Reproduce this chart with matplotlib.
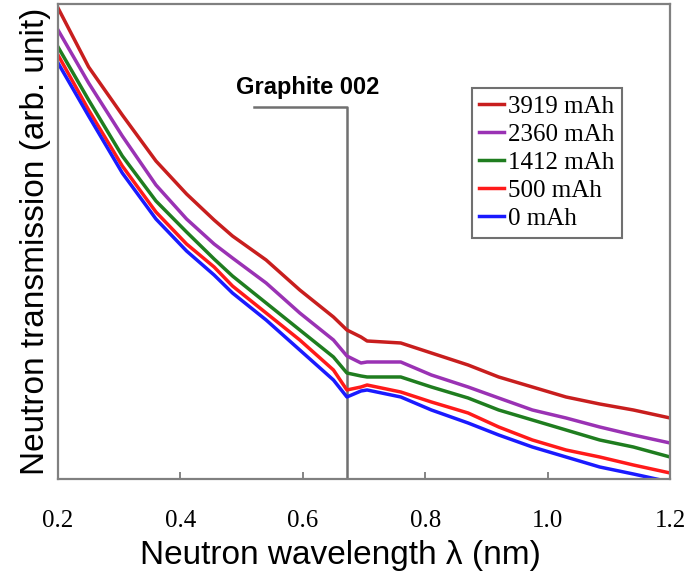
import matplotlib.pyplot as plt

# wavelength knots (nm) and transmission (arb. unit)
wl = [0.20, 0.25, 0.305, 0.36, 0.41, 0.455, 0.485, 0.54, 0.595, 0.65, 0.672,
      0.695, 0.705, 0.76, 0.81, 0.87, 0.92, 0.975, 1.03, 1.085, 1.14, 1.20]
t_3919 = [471, 412, 364, 318, 285, 259, 243, 219, 189, 162, 149,
          142, 138, 136, 126, 114, 102, 92, 82, 75, 69, 61]
t_2360 = [449, 396, 343, 294, 260, 235, 221, 196, 166, 139, 123,
          116, 117, 117, 104, 92, 81, 69, 61, 52, 44, 36]
t_1412 = [432, 379, 323, 278, 247, 220, 203, 176, 149, 122, 106,
          103, 102, 102, 92, 81, 69, 59, 49, 39, 32, 22]
t_500 = [424, 369, 313, 267, 235, 212, 193, 166, 139, 109, 89,
         92, 94, 87, 77, 66, 52, 39, 29, 22, 14, 6]
t_0 = [416, 363, 306, 260, 228, 204, 186, 159, 129, 99, 82,
       88, 89, 82, 69, 56, 44, 32, 22, 12, 5, -3]

labels = ['3919 mAh', '2360 mAh', '1412 mAh', '500 mAh', '0 mAh']
colors = ['#c81e1e', '#9a32b4', '#1f7d1f', '#ff1a1a', '#1a1aff']
series = [t_3919, t_2360, t_1412, t_500, t_0]

peak_x = 0.672
bracket_left = 0.52
bracket_y = 372

fig = plt.figure(figsize=(6.85, 5.78), dpi=100)
ax = fig.add_axes([0.0847, 0.1713, 0.8935, 0.8218])

for lab, col, ys in zip(labels, colors, series):
    ax.plot(wl, ys, color=col, lw=2.5, label=lab)

# Graphite 002 marker
ax.plot([bracket_left, peak_x, peak_x], [bracket_y, bracket_y, 0], color='#707070', lw=1.8, zorder=1)
ax.text(0.6085, 380, 'Graphite 002', ha='center', va='bottom', fontsize=17,
        fontweight='bold', family='Liberation Sans')

ax.set_xlim(0.2, 1.2)
ax.set_ylim(0, 475)
ax.set_xticks([0.2, 0.4, 0.6, 0.8, 1.0, 1.2])
ax.set_xticklabels(['0.2', '0.4', '0.6', '0.8', '1.0', '1.2'], family='Liberation Serif', fontsize=18)
ax.set_yticks([])
ax.tick_params(axis='x', direction='in', length=5, width=1.2, color='#707070', pad=22)

for sp in ax.spines.values():
    sp.set_color('#808080')
    sp.set_linewidth(1.6)

ax.set_xlabel('Neutron wavelength λ (nm)', family='Liberation Sans', fontsize=24)
ax.xaxis.set_label_coords(0.461, -0.128)
ax.set_ylabel('Neutron transmission (arb. unit)', family='Liberation Sans', fontsize=24, labelpad=5)

leg = ax.legend(loc='upper left', bbox_to_anchor=(0.676, 0.823), prop={'family': 'Liberation Serif', 'size': 18},
                handlelength=1.0, handletextpad=0.15, labelspacing=0.22, borderpad=0.3,
                borderaxespad=0, fancybox=False, framealpha=1)
leg.get_frame().set_edgecolor('#707070')
leg.get_frame().set_linewidth(1.5)

fig.savefig('out.png', dpi=100)
